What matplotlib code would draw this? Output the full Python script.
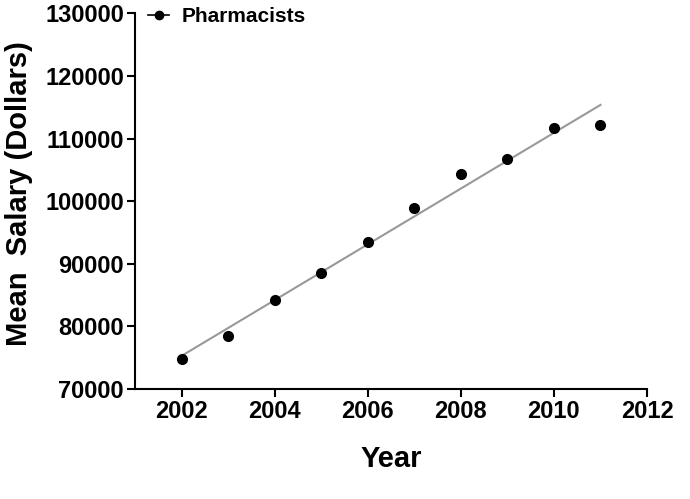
import numpy as np
import matplotlib
matplotlib.use("Agg")
import matplotlib.pyplot as plt

years = [2002, 2003, 2004, 2005, 2006, 2007, 2008, 2009, 2010, 2011]
salary = [74850, 78400, 84240, 88500, 93460, 98900, 104340, 106690, 111700, 112240]
series_label = "Pharmacists"
yticks = [70000, 80000, 90000, 100000, 110000, 120000, 130000]
xticks = [2002, 2004, 2006, 2008, 2010, 2012]

plt.rcParams['font.family'] = ['Liberation Sans', 'DejaVu Sans']
plt.rcParams['font.weight'] = 'bold'

fig = plt.figure(figsize=(6.9, 4.99), dpi=100)
ax = fig.add_axes([0.1957, 0.2204, 0.742, 0.7529])

x = np.array(years, dtype=float)
y = np.array(salary, dtype=float)
slope, intercept = np.polyfit(x, y, 1)
ax.plot([x[0], x[-1]], [slope * x[0] + intercept, slope * x[-1] + intercept],
        color='#999999', lw=1.5, zorder=2)
ax.plot(x, y, 'o', color='black', ms=7, zorder=3)

# legend proxy
ax.plot([], [], '-o', color='black', ms=6, lw=1.2, label=series_label, markerfacecolor='black')
leg = fig.legend(loc='center left', bbox_to_anchor=(0.215, 0.967), frameon=False,
                 prop={'weight': 'bold', 'size': 15}, handlelength=1.0, handletextpad=0.6,
                 borderaxespad=0, borderpad=0)

ax.set_xlim(2001, 2012)
ax.set_ylim(70000, 130000)
ax.set_xticks(xticks)
ax.set_yticks(yticks)
ax.tick_params(axis='both', direction='out', length=6, width=1.5, labelsize=17, pad=2)
for lab in ax.get_xticklabels() + ax.get_yticklabels():
    lab.set_fontweight('bold')
for s in ['top', 'right']:
    ax.spines[s].set_visible(False)
for s in ['left', 'bottom']:
    ax.spines[s].set_linewidth(1.5)

ax.set_ylabel("Mean  Salary (Dollars)", fontsize=21, fontweight='bold')
ax.yaxis.set_label_coords(-0.199, 0.52)
ax.set_xlabel("Year", fontsize=21, fontweight='bold', labelpad=16)

fig.savefig("out.png", dpi=100)
